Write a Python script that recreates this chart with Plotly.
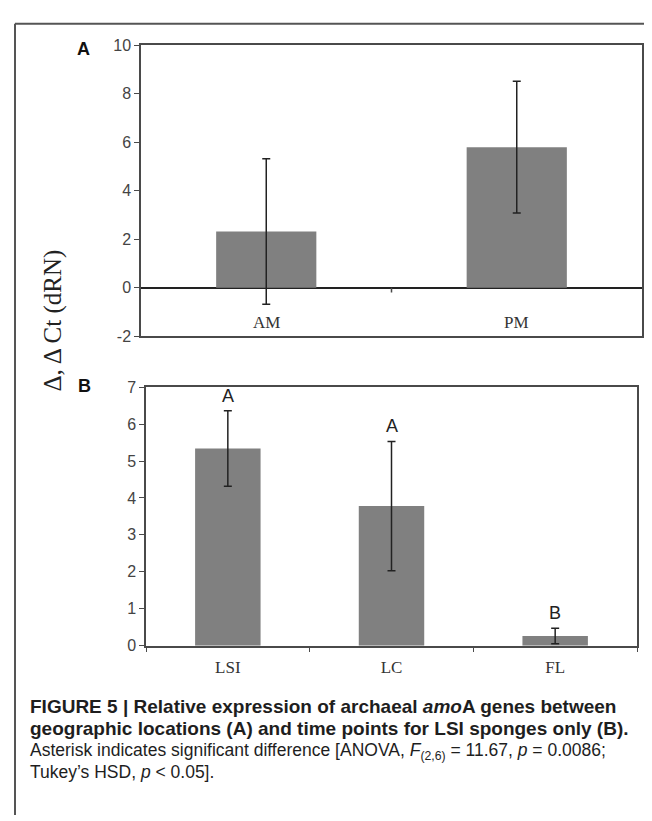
import plotly.graph_objects as go

# Panel A data
cats_a = ["AM", "PM"]
vals_a = [2.32, 5.80]
err_a = [3.00, 2.72]
yticks_a = [-2, 0, 2, 4, 6, 8, 10]

# Panel B data
cats_b = ["LSI", "LC", "FL"]
vals_b = [5.34, 3.78, 0.26]
err_b = [1.02, 1.75, 0.21]
letters_b = ["A", "A", "B"]
yticks_b = [0, 1, 2, 3, 4, 5, 6, 7]

W, H = 652, 821
def px(x): return x / W
def py(y): return 1 - y / H

BAR = "#808080"
TICKFONT = dict(family="Liberation Sans", size=16, color="#444")
CATFONT = dict(family="Liberation Serif", size=17, color="#333")
LINE = "#4a4a4a"

fig = go.Figure()
fig.add_trace(go.Bar(x=cats_a, y=vals_a, width=0.4, marker=dict(color=BAR, line=dict(width=0)),
                     error_y=dict(type="data", array=err_a, color="#222", thickness=1.5, width=4),
                     xaxis="x", yaxis="y", showlegend=False))
fig.add_trace(go.Bar(x=cats_b, y=vals_b, width=0.4, marker=dict(color=BAR, line=dict(width=0)),
                     error_y=dict(type="data", array=err_b, color="#222", thickness=1.5, width=4),
                     xaxis="x2", yaxis="y2", showlegend=False))

# significance letters above error bars
for c, v, e, t in zip(cats_b, vals_b, err_b, letters_b):
    fig.add_annotation(x=c, y=v + e, xref="x2", yref="y2", text=t, showarrow=False,
                       xanchor="center", yanchor="bottom", yshift=3,
                       font=dict(family="Liberation Sans", size=18, color="#222"))

# category labels of panel A sit just above the bottom spine
for c in cats_a:
    fig.add_annotation(x=c, y=0.047, xref="x", yref="y domain", text=c, showarrow=False,
                       xanchor="center", yanchor="middle", font=CATFONT)

axline = dict(showline=True, linecolor=LINE, linewidth=1.5, mirror=True, showgrid=False)

fig.update_layout(
    width=W, height=H, margin=dict(l=0, r=0, t=0, b=0),
    plot_bgcolor="white", paper_bgcolor="white",
    xaxis=dict(domain=[px(133), px(634)], anchor="y", ticks="", showticklabels=False, **axline),
    yaxis=dict(domain=[py(327), py(30)], anchor="x", range=[-2, 10], tickvals=yticks_a,
               ticktext=[str(v) for v in yticks_a],
               ticks="outside", ticklen=5, tickcolor=LINE, tickfont=TICKFONT,
               zeroline=True, zerolinecolor="#222", zerolinewidth=1.5, **axline),
    xaxis2=dict(domain=[px(138), px(629)], anchor="y2", ticks="outside", tickson="boundaries",
                ticklen=5, tickcolor=LINE, tickfont=CATFONT, ticklabelstandoff=5, **axline),
    yaxis2=dict(domain=[py(643), py(379)], anchor="x2", range=[0, 7], tickvals=yticks_b,
                ticktext=[str(v) for v in yticks_b],
                ticks="outside", ticklen=5, tickcolor=LINE, tickfont=TICKFONT,
                zeroline=False, **axline),
)

# small tick on the zero line between categories in panel A
fig.add_shape(type="line", xref="x", yref="y", x0=0.5, x1=0.5, y0=0, y1=-0.2,
              line=dict(color=LINE, width=1.5))

# figure frame (top and left)
fig.add_shape(type="line", xref="paper", yref="paper", x0=px(7), x1=1, y0=py(8), y1=py(8),
              line=dict(color="#555", width=2))
fig.add_shape(type="line", xref="paper", yref="paper", x0=px(7), x1=px(7), y0=py(8), y1=py(816),
              line=dict(color="#555", width=2))

# panel letters
for lab, x, y in [("A", 75, 34), ("B", 76, 378)]:
    fig.add_annotation(x=px(x), y=py(y), xref="paper", yref="paper", text=f"<b>{lab}</b>",
                       xanchor="center", yanchor="middle", showarrow=False,
                       font=dict(family="Liberation Sans", size=18, color="#111"))

# shared y-axis title
fig.add_annotation(x=px(45), y=py(311), xref="paper", yref="paper", text="Δ, Δ Ct (dRN)",
                   textangle=-90, showarrow=False, xanchor="center", yanchor="middle",
                   font=dict(family="Liberation Serif", size=25, color="#222"))

# caption (one block, four lines)
caption = (
    "<span style='font-size:19px'><b>FIGURE 5 | Relative expression of archaeal <i>amo</i>A genes between</b></span><br>"
    "<span style='font-size:19px'><b>geographic locations (A) and time points for LSI sponges only (B).</b></span><br>"
    "<span style='font-size:17.5px'>Asterisk indicates significant difference [ANOVA, <i>F</i><sub>(2,6)</sub> = 11.67, <i>p</i> = 0.0086;</span><br>"
    "<span style='font-size:17.5px'>Tukey’s HSD, <i>p</i> &lt; 0.05].</span>"
)
fig.add_annotation(x=px(20), y=py(738), xref="paper", yref="paper", text=caption, showarrow=False,
                   xanchor="left", yanchor="middle", align="left",
                   font=dict(family="Liberation Sans", size=16.6, color="#1e1e1e"))

fig.write_html("out.html")
